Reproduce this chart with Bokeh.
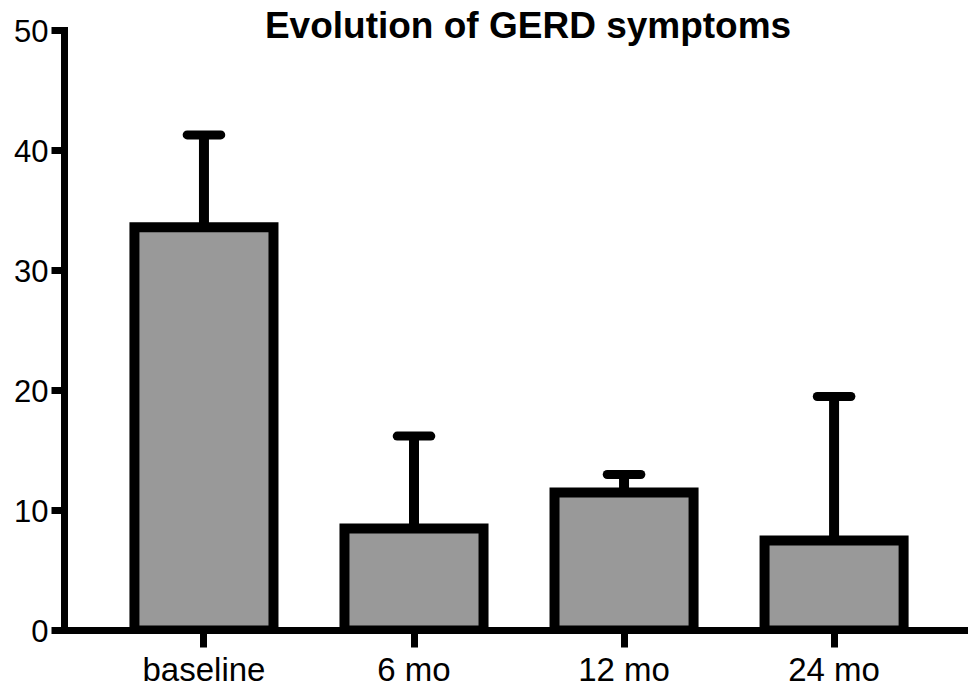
from bokeh.plotting import figure
from bokeh.models import Range1d, FixedTicker, Label
from bokeh.embed import file_html
from bokeh.resources import INLINE

categories = ["baseline", "6 mo", "12 mo", "24 mo"]
means = [33.6, 8.5, 11.5, 7.5]
sd = [7.7, 7.7, 1.5, 12.0]
y_ticks = [0, 10, 20, 30, 40, 50]
title_text = "Evolution of GERD symptoms"

xs = list(range(len(categories)))
tops = [m + s for m, s in zip(means, sd)]

FONT = "Liberation Sans"

p = figure(
    frame_width=904, frame_height=630,
    min_border_left=64, min_border_right=0, min_border_top=0, min_border_bottom=0,
    x_range=Range1d(-0.664, 3.64), y_range=Range1d(0, 52.5),
    output_backend="svg", toolbar_location=None,
)
p.outline_line_color = None
p.grid.visible = False
p.background_fill_color = "white"
p.border_fill_color = "white"

# error bars (upper only)
p.segment(x0=xs, y0=means, x1=xs, y1=tops, line_color="black", line_width=10)
cap_half = 0.08
p.segment(x0=[x - cap_half for x in xs], y0=tops, x1=[x + cap_half for x in xs], y1=tops,
          line_color="black", line_width=9, line_cap="round")

# bars
p.vbar(x=xs, top=means, bottom=0, width=0.662, fill_color="#999999",
       line_color="black", line_width=10, line_join="miter")

# axes
xa = p.xaxis[0]
xa.ticker = FixedTicker(ticks=xs)
xa.major_label_overrides = {i: c for i, c in zip(xs, categories)}
xa.axis_line_width = 7
xa.axis_line_color = "black"
xa.major_tick_line_width = 7
xa.major_tick_out = 17
xa.major_tick_in = 0
xa.minor_tick_line_color = None
xa.major_label_text_font = FONT
xa.major_label_text_font_size = "33px"
xa.major_label_text_color = "black"
xa.major_label_standoff = 3

ya = p.yaxis[0]
ya.ticker = FixedTicker(ticks=y_ticks)
ya.bounds = (0, 50)
ya.axis_line_width = 7
ya.axis_line_color = "black"
ya.axis_line_cap = "square"
ya.major_tick_line_width = 7
ya.major_tick_out = 13
ya.major_tick_in = 0
ya.minor_tick_line_color = None
ya.major_label_text_font = FONT
ya.major_label_text_font_size = "31px"
ya.major_label_text_color = "black"
ya.major_label_standoff = 3

title = Label(x=1.543, y=50.45, text=title_text, text_font=FONT, text_font_size="37px",
              text_font_style="bold", text_align="center", text_baseline="alphabetic",
              text_color="black")
p.add_layout(title)

open("out.html", "w").write(file_html(p, INLINE))
